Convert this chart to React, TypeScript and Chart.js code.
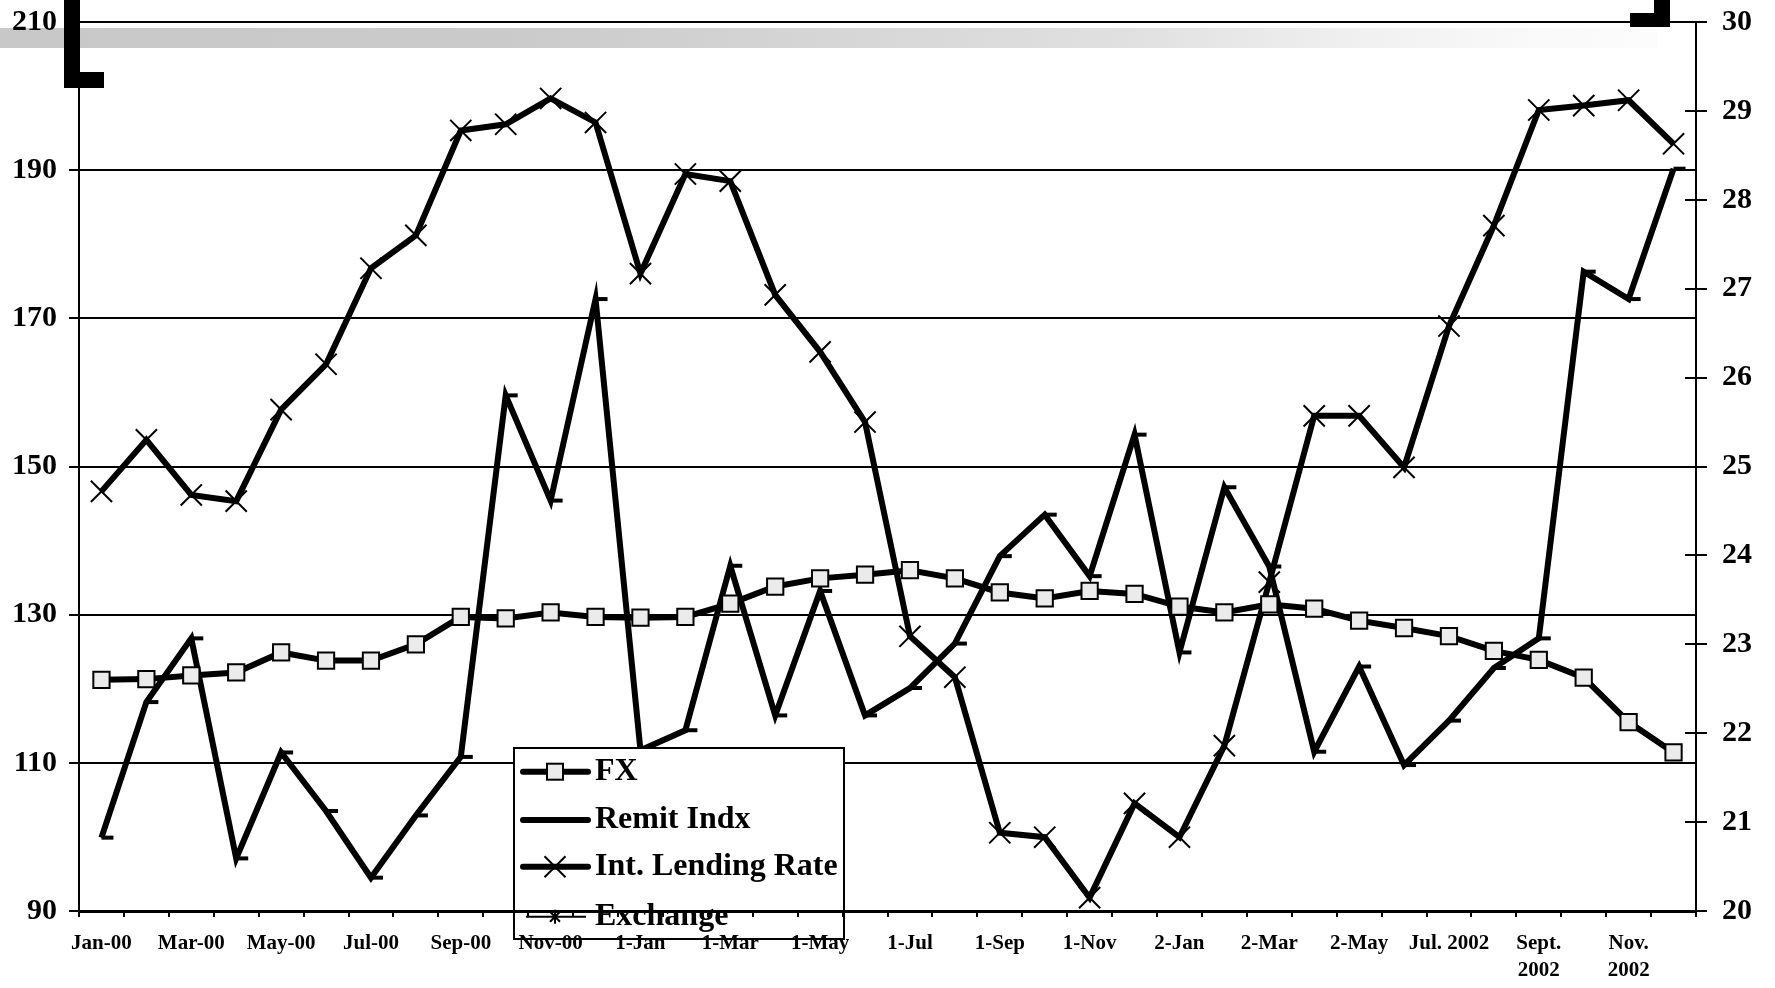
import React, { useEffect, useRef } from 'react';
import { Chart, registerables } from 'chart.js';

Chart.register(...registerables);

// ---------- data ----------
const categories: string[] = [
  'Jan-00', 'Feb-00', 'Mar-00', 'Apr-00', 'May-00', 'Jun-00', 'Jul-00', 'Aug-00', 'Sep-00', 'Oct-00', 'Nov-00', 'Dec-00',
  '1-Jan', '1-Feb', '1-Mar', '1-Apr', '1-May', '1-Jun', '1-Jul', '1-Aug', '1-Sep', '1-Oct', '1-Nov', '1-Dec',
  '2-Jan', '2-Feb', '2-Mar', '2-Apr', '2-May', 'Jun. 2002', 'Jul. 2002', 'Aug. 2002', 'Sept. 2002', 'Oct. 2002', 'Nov. 2002', 'Dec. 2002',
];

const tickLabels: (string | string[])[] = [
  'Jan-00', 'Mar-00', 'May-00', 'Jul-00', 'Sep-00', 'Nov-00',
  '1-Jan', '1-Mar', '1-May', '1-Jul', '1-Sep', '1-Nov',
  '2-Jan', '2-Mar', '2-May', 'Jul. 2002', ['Sept.', '2002'], ['Nov.', '2002'],
];

const fxValues: number[] = [
  121.2, 121.3, 121.8, 122.2, 124.9, 123.8, 123.8, 126.0, 129.7, 129.5, 130.3, 129.7,
  129.6, 129.7, 131.5, 133.8, 134.9, 135.4, 136.0, 134.9, 133.0, 132.2, 133.2, 132.8,
  131.1, 130.3, 131.4, 130.8, 129.2, 128.2, 127.1, 125.1, 123.9, 121.5, 115.5, 111.4,
];

const remitValues: number[] = [
  99.9, 118.2, 126.8, 97.1, 111.4, 103.5, 94.5, 102.9, 110.8, 159.6, 145.4, 172.6,
  111.7, 114.4, 136.6, 116.4, 133.2, 116.4, 120.1, 126.1, 137.9, 143.5, 135.2, 154.3,
  124.9, 147.2, 136.5, 111.5, 123.0, 109.7, 115.7, 122.8, 126.8, 176.3, 172.6, 190.2,
];

const lendingValues: number[] = [
  24.72, 25.30, 24.68, 24.61, 25.64, 26.15, 27.23, 27.60, 28.78, 28.85, 29.14, 28.87,
  27.17, 28.29, 28.21, 26.93, 26.29, 25.50, 23.09, 22.63, 20.88, 20.83, 20.15, 21.21,
  20.83, 21.86, 23.70, 25.57, 25.57, 24.99, 26.58, 27.71, 29.01, 29.06, 29.12, 28.63,
];

const legendLabels: string[] = ['FX', 'Remit Indx', 'Int. Lending Rate', 'Exchange'];

// ---------- styling ----------
const FONT = "'Liberation Serif', 'Times New Roman', serif";
const BLACK = '#000000';
const SQUARE_FILL = '#ebebeb';
const LINE_W = 6;

const bandPlugin = {
  id: 'topBand',
  beforeDraw(chart: any) {
    const ctx = chart.ctx as CanvasRenderingContext2D;
    ctx.save();
    ctx.fillStyle = '#ffffff';
    ctx.fillRect(0, 0, chart.width, chart.height);
    const g = ctx.createLinearGradient(0, 0, 1657, 0);
    g.addColorStop(0, '#c8c8c8');
    g.addColorStop(0.3, '#cacaca');
    g.addColorStop(0.68, '#e0e0e0');
    g.addColorStop(0.82, '#f0f0f0');
    g.addColorStop(0.92, '#f9f9f9');
    g.addColorStop(1, '#fcfcfc');
    ctx.fillStyle = g;
    ctx.fillRect(0, 28, 1657, 20);
    ctx.restore();
  },
};

const legendPlugin = {
  id: 'boxLegend',
  afterDatasetsDraw(chart: any) {
    const ctx = chart.ctx as CanvasRenderingContext2D;
    const L = 514, T = 748, R = 844, B = 939;
    ctx.save();
    ctx.fillStyle = '#ffffff';
    ctx.fillRect(L, T, R - L, B - T);
    ctx.strokeStyle = BLACK;
    ctx.lineWidth = 2;
    ctx.strokeRect(L, T, R - L, B - T);

    const rows = [771.7, 820, 866.7, 916.7];
    const sx0 = 523, sx1 = 588, mx = 555, tx = 595;
    ctx.lineCap = 'round';
    for (let i = 0; i < 3; i++) {
      ctx.lineWidth = LINE_W;
      ctx.beginPath();
      ctx.moveTo(sx0, rows[i]);
      ctx.lineTo(sx1, rows[i]);
      ctx.stroke();
    }
    // FX square
    ctx.lineCap = 'butt';
    ctx.lineWidth = 2;
    ctx.fillStyle = SQUARE_FILL;
    ctx.fillRect(mx - 8, rows[0] - 8, 16, 16);
    ctx.strokeRect(mx - 8, rows[0] - 8, 16, 16);
    // Lending cross
    ctx.beginPath();
    ctx.moveTo(mx - 10.5, rows[2] - 10.5);
    ctx.lineTo(mx + 10.5, rows[2] + 10.5);
    ctx.moveTo(mx + 10.5, rows[2] - 10.5);
    ctx.lineTo(mx - 10.5, rows[2] + 10.5);
    ctx.stroke();
    // Exchange thin line + asterisk
    ctx.lineWidth = 2;
    ctx.beginPath();
    ctx.moveTo(526, rows[3]);
    ctx.lineTo(586, rows[3]);
    ctx.stroke();
    ctx.beginPath();
    ctx.moveTo(mx, rows[3] - 7);
    ctx.lineTo(mx, rows[3] + 7);
    ctx.moveTo(mx - 5, rows[3] - 5);
    ctx.lineTo(mx + 5, rows[3] + 5);
    ctx.moveTo(mx + 5, rows[3] - 5);
    ctx.lineTo(mx - 5, rows[3] + 5);
    ctx.stroke();

    ctx.fillStyle = BLACK;
    ctx.font = `bold 32px ${FONT}`;
    ctx.textBaseline = 'middle';
    ctx.textAlign = 'left';
    legendLabels.forEach((t, i) => ctx.fillText(t, tx, rows[i]));
    ctx.restore();
  },
};

const decoPlugin = {
  id: 'decorations',
  afterDraw(chart: any) {
    const ctx = chart.ctx as CanvasRenderingContext2D;
    const area = chart.chartArea;
    ctx.save();
    const s = chart.scales.y1;
    ctx.strokeStyle = BLACK;
    ctx.lineWidth = 2;
    s.ticks.forEach((t: any) => {
      const y = Math.round(s.getPixelForValue(t.value));
      ctx.beginPath();
      ctx.moveTo(area.right - 11, y);
      ctx.lineTo(area.right, y);
      ctx.stroke();
    });
    ctx.fillStyle = BLACK;
    ctx.fillRect(64, 0, 16, 88);
    ctx.fillRect(64, 72, 40, 16);
    ctx.fillRect(1654, 0, 16, 27);
    ctx.fillRect(1630, 13, 40, 14);
    ctx.restore();
  },
};

export default function App() {
  const ref = useRef<HTMLCanvasElement>(null);

  useEffect(() => {
    if (!ref.current) return;
    const tickFontX = { family: FONT, size: 21, weight: 'bold' as const, lineHeight: 1.28 };
    const tickFontY = { family: FONT, size: 30, weight: 'bold' as const };
    const fitY = (sc: any) => { sc.width = 79; sc.paddingTop = 0; sc.paddingBottom = 0; };
    const chart = new Chart(ref.current, {
      type: 'line',
      data: {
        labels: categories,
        datasets: [
          {
            label: 'FX',
            data: fxValues,
            yAxisID: 'y',
            borderColor: BLACK,
            borderWidth: LINE_W,
            tension: 0,
            pointStyle: 'rect',
            pointRadius: 11.5,
            pointBackgroundColor: SQUARE_FILL,
            pointBorderColor: BLACK,
            pointBorderWidth: 2,
            clip: false,
          },
          {
            label: 'Remit Indx',
            data: remitValues,
            yAxisID: 'y',
            borderColor: BLACK,
            borderWidth: LINE_W,
            tension: 0,
            pointStyle: 'dash',
            pointRadius: 12,
            pointBorderColor: BLACK,
            pointBorderWidth: 4,
            clip: false,
          },
          {
            label: 'Int. Lending Rate',
            data: lendingValues,
            yAxisID: 'y1',
            borderColor: BLACK,
            borderWidth: LINE_W,
            tension: 0,
            pointStyle: 'crossRot',
            pointRadius: 15,
            pointBorderColor: BLACK,
            pointBorderWidth: 2,
            clip: false,
          },
        ],
      },
      options: {
        responsive: false,
        animation: false,
        events: [],
        layout: { padding: { top: 22, left: 0, right: 0, bottom: 0 } },
        plugins: {
          legend: { display: false },
          tooltip: { enabled: false },
        },
        scales: {
          x: {
            type: 'category',
            offset: true,
            afterFit: (sc: any) => { sc.height = 77; sc.paddingLeft = 0; sc.paddingRight = 0; },
            grid: { display: true, drawOnChartArea: false, offset: true, tickLength: 6, color: BLACK, lineWidth: 2, z: 1 },
            border: { display: true, color: BLACK, width: 3, z: 1 },
            ticks: {
              autoSkip: false,
              maxRotation: 0,
              minRotation: 0,
              padding: 13,
              color: BLACK,
              font: tickFontX,
              z: 1,
              callback: (_v: any, i: number) => (i % 2 === 0 ? tickLabels[i / 2] : ''),
            },
          },
          y: {
            position: 'left',
            min: 90,
            max: 210,
            afterFit: fitY,
            grid: { color: BLACK, lineWidth: 2, tickLength: 10 },
            border: { display: true, color: BLACK, width: 2 },
            ticks: { stepSize: 20, padding: 12, color: BLACK, font: tickFontY },
          },
          y1: {
            position: 'right',
            min: 20,
            max: 30,
            afterFit: fitY,
            grid: { drawOnChartArea: false, color: BLACK, lineWidth: 2, tickLength: 11 },
            border: { display: true, color: BLACK, width: 2 },
            ticks: { stepSize: 1, padding: 15, color: BLACK, font: tickFontY },
          },
        },
      } as any,
      plugins: [bandPlugin, legendPlugin, decoPlugin],
    });
    return () => chart.destroy();
  }, []);

  return (
    <div style={{ position: 'fixed', left: 0, top: 0, width: 1775, height: 988, background: '#ffffff' }}>
      <canvas ref={ref} width={1775} height={988} style={{ display: 'block', width: 1775, height: 988 }} />
    </div>
  );
}
